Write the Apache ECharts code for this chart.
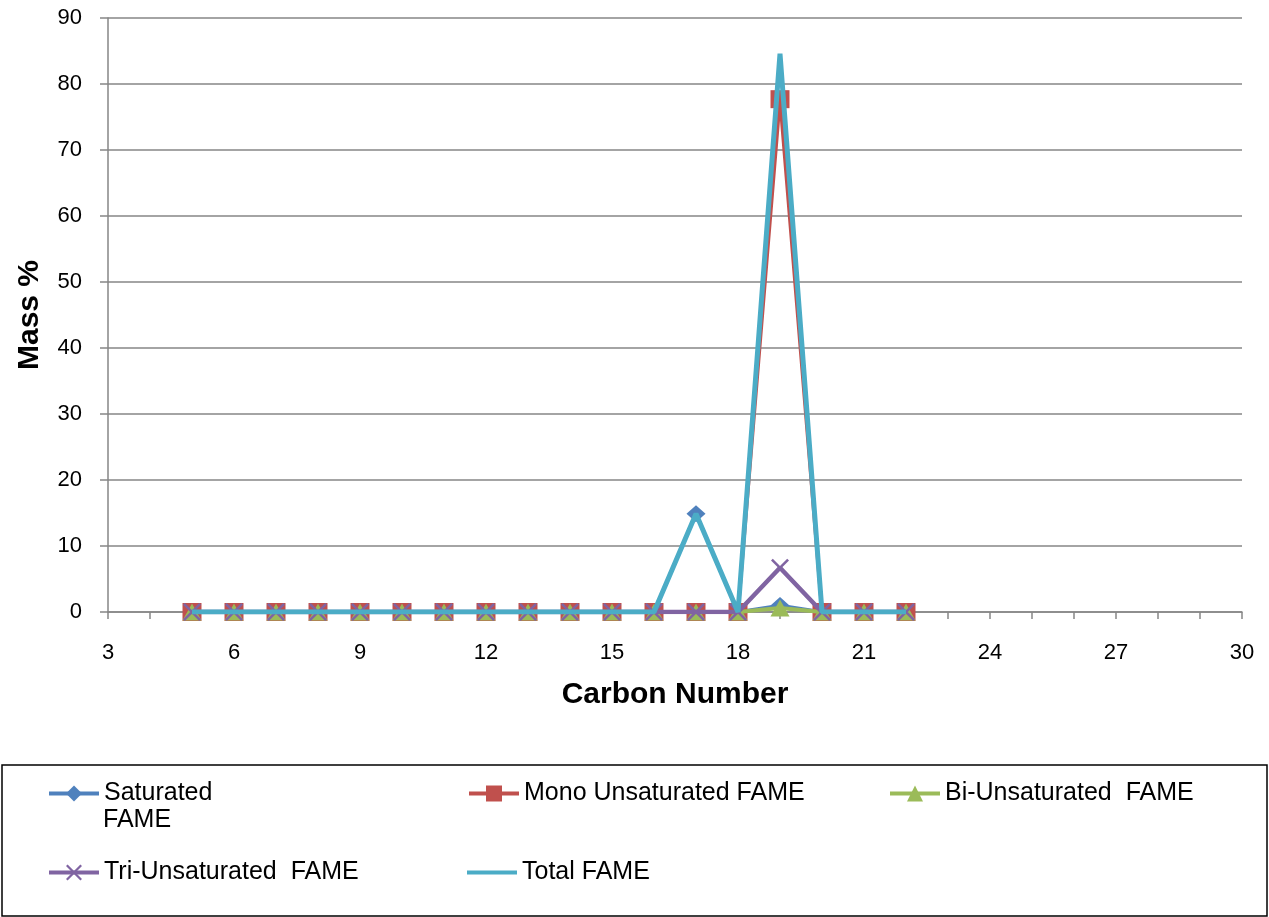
<!DOCTYPE html>
<html>
<head>
<meta charset="utf-8">
<script src="https://cdn.jsdelivr.net/npm/echarts@6/dist/echarts.min.js"></script>
<style>
html,body{margin:0;padding:0;background:#fff;}
#chart{width:1269px;height:917px;}
</style>
</head>
<body>
<div id="chart"></div>
<script>
var carbonNumbers = [5, 6, 7, 8, 9, 10, 11, 12, 13, 14, 15, 16, 17, 18, 19, 20, 21, 22];
var saturated     = [0, 0, 0, 0, 0, 0, 0, 0, 0, 0, 0, 0, 14.9, 0, 1.0, 0, 0, 0];
var monoUnsat     = [0, 0, 0, 0, 0, 0, 0, 0, 0, 0, 0, 0, 0, 0, 77.7, 0, 0, 0];
var biUnsat       = [0, 0, 0, 0, 0, 0, 0, 0, 0, 0, 0, 0, 0, 0, 0.6, 0, 0, 0];
var triUnsat      = [0, 0, 0, 0, 0, 0, 0, 0, 0, 0, 0, 0, 0, 0, 6.7, 0, 0, 0];
var totalFame     = [0, 0, 0, 0, 0, 0, 0, 0, 0, 0, 0, 0, 14.9, 0, 84.6, 0, 0, 0];
var seriesNames = ['Saturated FAME', 'Mono Unsaturated FAME', 'Bi-Unsaturated  FAME', 'Tri-Unsaturated  FAME', 'Total FAME'];
var xTicks = {min: 3, max: 30, step: 3};
var yTicks = {min: 0, max: 90, step: 10};

function pairs(vals) {
  return carbonNumbers.map(function (c, i) { return [c, vals[i]]; });
}

var FONT = 'Liberation Sans, Arial, sans-serif';
var xSymbol = 'path://M0,1L1,0L10,9L9,10Z M9,0L10,1L1,10L0,9Z';
var LEG_FS = 25;

var chart = echarts.init(document.getElementById('chart'), null, {renderer: 'canvas'});

function legendAt(item, left, top, extra) {
  var l = {
    data: [item],
    left: left,
    top: top,
    orient: 'horizontal',
    itemWidth: 50,
    itemHeight: 20,
    itemGap: 4,
    padding: 0,
    selectedMode: false,
    lineStyle: {width: 4},
    textStyle: {fontFamily: FONT, fontSize: LEG_FS, color: '#000'}
  };
  if (extra) {
    for (var k in extra) l[k] = extra[k];
  }
  return l;
}

var option = {
  animation: false,
  backgroundColor: '#fff',
  grid: {left: 108, right: 27, top: 18, bottom: 305, containLabel: false},
  xAxis: {
    type: 'value',
    min: xTicks.min,
    max: xTicks.max,
    interval: xTicks.step,
    name: 'Carbon Number',
    nameLocation: 'middle',
    nameGap: 68,
    nameTextStyle: {fontFamily: FONT, fontSize: 30, fontWeight: 'bold', color: '#000'},
    axisLine: {show: true, onZero: false, lineStyle: {color: '#868686', width: 1.5}},
    axisTick: {show: true, inside: false, length: 7, lineStyle: {color: '#868686', width: 1.5}},
    minorTick: {show: true, splitNumber: 3, length: 7, lineStyle: {color: '#868686', width: 1.5}},
    axisLabel: {fontFamily: FONT, fontSize: 22, color: '#000', margin: 30},
    splitLine: {show: false}
  },
  yAxis: {
    type: 'value',
    min: yTicks.min,
    max: yTicks.max,
    interval: yTicks.step,
    name: 'Mass %',
    nameLocation: 'middle',
    nameGap: 63,
    nameRotate: 90,
    nameTextStyle: {fontFamily: FONT, fontSize: 30, fontWeight: 'bold', color: '#000'},
    axisLine: {show: true, lineStyle: {color: '#868686', width: 1.5}},
    axisTick: {show: true, inside: false, length: 8, lineStyle: {color: '#868686', width: 1.5}},
    axisLabel: {fontFamily: FONT, fontSize: 22, color: '#000', margin: 26},
    splitLine: {show: true, lineStyle: {color: '#868686', width: 1.5}}
  },
  legend: [
    legendAt(seriesNames[0], 47, 781, {
      formatter: function () { return 'Saturated'; }
    }),
    legendAt(seriesNames[1], 467, 781),
    legendAt(seriesNames[2], 888, 781),
    legendAt(seriesNames[3], 47, 860),
    legendAt({name: seriesNames[4], icon: 'path://M0,0L50,0L50,4L0,4Z'}, 467, 860)
  ],
  graphic: [
    {
      type: 'rect',
      silent: true,
      z: -1,
      shape: {x: 2, y: 765, width: 1265, height: 151},
      style: {fill: 'none', stroke: '#000', lineWidth: 1.5}
    },
    {
      type: 'text',
      silent: true,
      left: 103,
      top: 808,
      style: {text: 'FAME', font: LEG_FS + 'px ' + FONT, fill: '#000'}
    }
  ],
  series: [
    {
      name: seriesNames[0], type: 'line', data: pairs(saturated),
      symbol: 'diamond', symbolSize: [19, 17], showAllSymbol: true,
      color: '#4F81BD',
      lineStyle: {color: '#4F81BD', width: 3.5},
      itemStyle: {color: '#4F81BD'},
      z: 2
    },
    {
      name: seriesNames[1], type: 'line', data: pairs(monoUnsat),
      symbol: 'rect', symbolSize: [19, 18], showAllSymbol: true,
      color: '#C0504D',
      lineStyle: {color: '#C0504D', width: 3.5},
      itemStyle: {color: '#C0504D'},
      z: 3
    },
    {
      name: seriesNames[2], type: 'line', data: pairs(biUnsat),
      symbol: 'triangle', symbolSize: [19, 17], showAllSymbol: true,
      color: '#9BBB59',
      lineStyle: {color: '#9BBB59', width: 4},
      itemStyle: {color: '#9BBB59'},
      z: 4
    },
    {
      name: seriesNames[3], type: 'line', data: pairs(triUnsat),
      symbol: xSymbol, symbolSize: [18, 18], showAllSymbol: true,
      color: '#8064A2',
      lineStyle: {color: '#8064A2', width: 4.5},
      itemStyle: {color: '#8064A2'},
      z: 5
    },
    {
      name: seriesNames[4], type: 'line', data: pairs(totalFame),
      symbol: 'none', showSymbol: false,
      color: '#4BACC6',
      lineStyle: {color: '#4BACC6', width: 5},
      itemStyle: {color: '#4BACC6'},
      z: 6
    }
  ]
};

chart.setOption(option);
</script>
</body>
</html>
